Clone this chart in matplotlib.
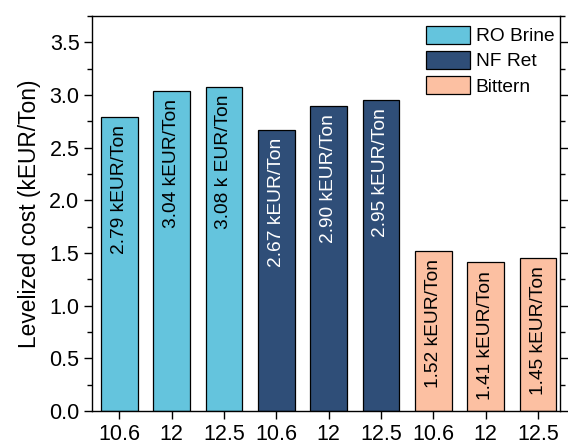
import matplotlib
matplotlib.use("Agg")
import matplotlib.pyplot as plt
from matplotlib.ticker import MultipleLocator, FormatStrFormatter
from matplotlib.patches import Patch

plt.rcParams['font.family'] = ['Liberation Sans', 'DejaVu Sans']

tick_labels = ["10.6", "12", "12.5", "10.6", "12", "12.5", "10.6", "12", "12.5"]
values = [2.79, 3.04, 3.08, 2.67, 2.90, 2.95, 1.52, 1.41, 1.45]
bar_texts = ["2.79 kEUR/Ton", "3.04 kEUR/Ton", "3.08 k EUR/Ton",
             "2.67 kEUR/Ton", "2.90 kEUR/Ton", "2.95 kEUR/Ton",
             "1.52 kEUR/Ton", "1.41 kEUR/Ton", "1.45 kEUR/Ton"]
groups = ["RO Brine", "NF Ret", "Bittern"]
group_of_bar = [0, 0, 0, 1, 1, 1, 2, 2, 2]
group_colors = ["#64C4DD", "#2F4E78", "#FCC0A2"]
text_colors = ["black", "white", "black"]

fig = plt.figure(figsize=(5.68, 4.43), dpi=100)
ax = fig.add_axes([92/568, 1 - 411/443, (560-92)/568, (411-16)/443])

x = list(range(len(values)))
cols = [group_colors[g] for g in group_of_bar]
ax.bar(x, values, width=0.7, color=cols, edgecolor="black", linewidth=0.9, zorder=2)

for xi, v, t, g in zip(x, values, bar_texts, group_of_bar):
    ax.annotate(t, xy=(xi, v), xytext=(0, -6), textcoords="offset points",
                rotation=90, ha="center", va="top", fontsize=13.8,
                color=text_colors[g])

ax.set_xlim(-0.52, 8.42)
ax.set_ylim(0, 3.75)
ax.set_xticks(x)
ax.set_xticklabels(tick_labels, fontsize=15.5)
ax.yaxis.set_major_locator(MultipleLocator(0.5))
ax.yaxis.set_minor_locator(MultipleLocator(0.25))
ax.yaxis.set_major_formatter(FormatStrFormatter('%.1f'))
ax.tick_params(axis='y', which='major', direction='out', length=6, width=1,
               labelsize=15.5, right=True, pad=3)
ax.tick_params(axis='y', which='minor', direction='out', length=3.5, width=1, right=True)
ax.tick_params(axis='x', which='major', direction='out', length=6, width=1, pad=3)
for s in ax.spines.values():
    s.set_linewidth(1)
ax.set_ylabel("Levelized cost (kEUR/Ton)", fontsize=16.4, labelpad=6)

handles = [Patch(facecolor=c, edgecolor="black", linewidth=0.9) for c in group_colors]
ax.legend(handles, groups, loc="upper right", bbox_to_anchor=(1.0, 0.99),
          frameon=False, fontsize=13.8,
          handlelength=2.3, handleheight=1.1, handletextpad=0.3, labelspacing=0.28,
          borderaxespad=0.1, borderpad=0.2)

fig.savefig("out.png", dpi=100)
